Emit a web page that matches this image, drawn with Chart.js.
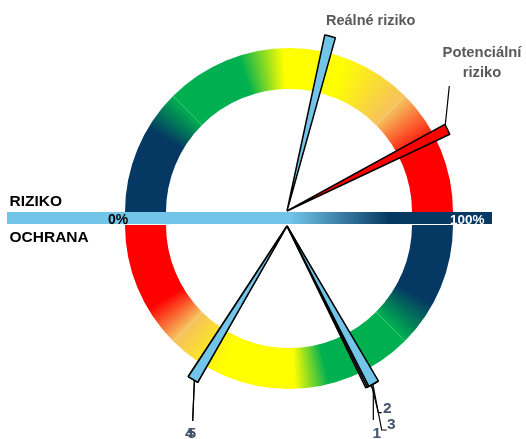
<!DOCTYPE html>
<html>
<head>
<meta charset="utf-8">
<script src="https://cdn.jsdelivr.net/npm/chart.js@4.4.1/dist/chart.umd.min.js"></script>
<style>
  html, body { margin: 0; padding: 0; background: #fff; }
  body { width: 526px; height: 439px; position: relative; overflow: hidden; font-family: "Liberation Sans", Arial, sans-serif; }
  .box { position: absolute; }
  .box canvas { display: block; }
  .lbl { position: absolute; white-space: nowrap; font-weight: bold; line-height: 1; z-index: 10; }
</style>
</head>
<body>

<div class="box" id="ringTopBox" style="left:109px;top:32px;z-index:1"><canvas id="ringTop" width="360" height="360"></canvas></div>
<div class="box" id="ringBottomBox" style="left:109px;top:45px;z-index:1"><canvas id="ringBottom" width="360" height="360"></canvas></div>
<div class="box" style="left:7px;top:212px;z-index:2"><canvas id="scaleBar" width="485" height="12"></canvas></div>
<div id="needles"></div>

<div class="lbl" style="left:9.5px;top:193.4px;font-size:15.5px;color:#000">RIZIKO</div>
<div class="lbl" style="left:9.5px;top:229.4px;font-size:15.5px;color:#000">OCHRANA</div>
<div class="lbl" id="tick0" style="left:108px;top:212.2px;font-size:14px;color:#000;z-index:3">0%</div>
<div class="lbl" id="tick100" style="left:450px;top:212.6px;font-size:13.5px;color:#fff;z-index:3">100%</div>
<div class="lbl" style="left:326px;top:12.7px;font-size:14.5px;color:#595959">Reálné riziko</div>
<div class="lbl" style="left:432px;top:44.8px;width:100px;text-align:center;font-size:14.8px;color:#595959;line-height:20px;margin-top:-2.7px">Potenciální<br>riziko</div>
<div class="lbl" style="left:383px;top:400px;font-size:15.5px;color:#44546a">2</div>
<div class="lbl" style="left:387px;top:416px;font-size:15.5px;color:#44546a">3</div>
<div class="lbl" style="left:372.5px;top:425px;font-size:15.5px;color:#44546a">1</div>
<div class="lbl" style="left:185px;top:424.5px;font-size:15.5px;color:#44546a">4</div>
<div class="lbl" style="left:187.5px;top:424.5px;font-size:15.5px;color:#44546a">5</div>

<script>
// Stupnice 0-100 % pro obě poloviny kruhu
const halves = ['RIZIKO', 'OCHRANA'];
const scaleTicks = ['0%', '100%'];
const ringSectors = [25, 25, 25, 25];

// Barevné přechody kruhu (pozice v % stupnice zleva doprava)
const riskStops = [0, 17, 25, 40, 49, 61, 75, 86, 100];
const riskColors = ['#053863', '#053863', '#00b050', '#00b050', '#ffff00', '#ffff00', '#f6c15e', '#ff0000', '#ff0000'];
const protectStops = [0, 17, 25, 36, 51, 58, 75, 84, 100];
const protectColors = ['#ff0000', '#ff0000', '#f6c15e', '#ffff00', '#ffff00', '#00b050', '#00b050', '#053863', '#053863'];

// Ručičky
const riskLabels = ['Reálné riziko', 'Potenciální riziko'];
const riskValues = [57.7, 85];
const riskColorsNeedle = ['#72c5e8', '#ff0000'];
const protectLabels = ['1', '2', '3', '4', '5'];
const protectValues = [65.4, 65.7, 66.0, 32.5, 32.5];

// Odkazové čáry k popiskům (souřadnice stránky)
const leaderPaths = {
  'Reálné riziko': [],
  'Potenciální riziko': [[449.3, 86]],
  '1': [[373.3, 390], [373.3, 420]],
  '2': [[378.3, 412.7], [381.7, 412.7]],
  '3': [[381.7, 430], [386.7, 430]],
  '4': [[192.7, 421]],
  '5': [[192.7, 421]]
};

const needleWidth = 3.5;
const clear = 'rgba(0,0,0,0)';

function ringFill(stops, colors, startAngle, toOffset) {
  return function(c) {
    const area = c.chart.chartArea;
    if (!area || c.dataIndex >= ringSectors.length) return clear;
    const g = c.chart.ctx.createConicGradient(startAngle, (area.left + area.right) / 2, (area.top + area.bottom) / 2);
    stops.forEach((s, i) => g.addColorStop(toOffset(s), colors[i]));
    return g;
  };
}

function makeRing(id, rotation, fill) {
  return new Chart(document.getElementById(id), {
    type: 'doughnut',
    data: {
      labels: [...ringSectors.map((_, i) => 'sektor ' + (i + 1)), ''],
      datasets: [{
        data: [...ringSectors, 100],
        backgroundColor: fill,
        borderWidth: 0,
        hoverOffset: 0
      }]
    },
    options: {
      responsive: false,
      animation: false,
      events: [],
      rotation: rotation,
      radius: 164,
      cutout: '75%',
      plugins: { legend: { display: false }, tooltip: { enabled: false } }
    }
  });
}

makeRing('ringTop', -90, ringFill(riskStops, riskColors, Math.PI, s => s / 200));
makeRing('ringBottom', 90, ringFill(protectStops, protectColors, 0, s => (100 - s) / 200));

// Vodorovný pruh stupnice
new Chart(document.getElementById('scaleBar'), {
  type: 'bar',
  data: {
    labels: [halves.join(' / ')],
    datasets: [{
      data: [100],
      backgroundColor: function(c) {
        const area = c.chart.chartArea;
        if (!area) return '#72c5e8';
        const g = c.chart.ctx.createLinearGradient(area.left, 0, area.right, 0);
        g.addColorStop(0, '#72c5e8');
        g.addColorStop(0.585, '#72c5e8');
        g.addColorStop(0.79, '#053863');
        g.addColorStop(1, '#053863');
        return g;
      },
      borderWidth: 0,
      barPercentage: 1,
      categoryPercentage: 1
    }]
  },
  options: {
    indexAxis: 'y',
    responsive: false,
    animation: false,
    events: [],
    scales: {
      x: { display: false, min: 0, max: 100 },
      y: { display: false }
    },
    plugins: { legend: { display: false }, tooltip: { enabled: false } }
  }
});

const leaderPlugin = {
  id: 'leader',
  beforeDatasetsDraw(chart, args, opts) {
    if (!opts.path || !opts.path.length) return;
    const arc = chart.getDatasetMeta(0).data[1];
    const mid = (arc.startAngle + arc.endAngle) / 2;
    const r = arc.outerRadius - 3;
    const ctx = chart.ctx;
    ctx.save();
    ctx.strokeStyle = '#000';
    ctx.lineWidth = 1.2;
    ctx.beginPath();
    ctx.moveTo(arc.x + Math.cos(mid) * r, arc.y + Math.sin(mid) * r);
    opts.path.forEach(p => ctx.lineTo(p[0] - opts.left, p[1] - opts.top));
    ctx.stroke();
    ctx.restore();
  }
};

function makeNeedle(label, angle, rotation, color, left, top) {
  const box = document.createElement('div');
  box.className = 'box';
  box.style.left = left + 'px';
  box.style.top = top + 'px';
  box.style.zIndex = 4;
  const cv = document.createElement('canvas');
  cv.width = 420;
  cv.height = 420;
  box.appendChild(cv);
  document.getElementById('needles').appendChild(box);
  const a = angle - needleWidth / 2;
  new Chart(cv, {
    type: 'pie',
    data: {
      labels: ['', label, ''],
      datasets: [{
        data: [a, needleWidth, 360 - a - needleWidth],
        backgroundColor: [clear, color, clear],
        borderColor: [clear, '#000', clear],
        borderWidth: [0, 1.5, 0],
        hoverOffset: 0
      }]
    },
    options: {
      responsive: false,
      animation: false,
      events: [],
      rotation: rotation,
      radius: 180,
      plugins: {
        legend: { display: false },
        tooltip: { enabled: false },
        leader: { path: leaderPaths[label], left: left, top: top }
      }
    },
    plugins: [leaderPlugin]
  });
}

riskLabels.forEach((l, i) => makeNeedle(l, riskValues[i] * 1.8, -90, riskColorsNeedle[i], 77, 1));
protectLabels.forEach((l, i) => makeNeedle(l, (100 - protectValues[i]) * 1.8, 90, '#72c5e8', 77, 16));
</script>
</body>
</html>
